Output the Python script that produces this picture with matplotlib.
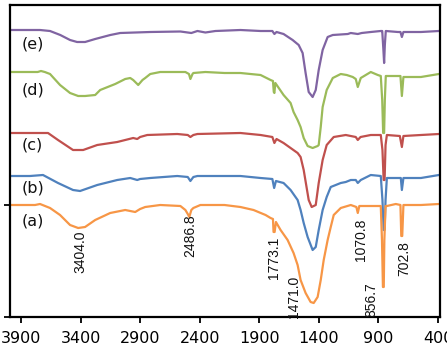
import matplotlib
matplotlib.use("Agg")
import matplotlib.pyplot as plt

# FTIR spectra, stacked. wavenumber (cm-1) and offset signal (a.u., axis inverted)
wn_e = [3992, 3740, 3656, 3570, 3488, 3429, 3362, 3277, 3150, 3067, 2815, 2562, 2470, 2419, 2352, 2268,
        2058, 1889, 1790, 1773, 1755, 1696, 1620, 1569, 1536, 1511, 1485, 1452, 1426, 1401, 1368, 1326,
        1283, 1157, 1132, 1073, 1040, 964, 880, 868, 858, 852, 846, 838, 737, 715, 703, 690, 543, 392]
sig_e = [30, 30, 31, 35, 40, 42, 42, 39, 35, 33, 32, 31.5, 33, 31, 32.5, 31,
         30, 31, 31, 34, 32, 34, 40, 45, 53, 73, 92, 97, 90, 70, 50, 37,
         35, 34, 33, 34, 33, 32, 31, 31, 50, 63, 45, 31, 32, 32, 37, 32, 32, 31]

wn_d = [3992, 3760, 3732, 3700, 3656, 3572, 3488, 3420, 3362, 3277, 3235, 3109, 3025, 2983, 2958, 2924,
        2916, 2880, 2857, 2815, 2731, 2520, 2490, 2478, 2460, 2453, 2352, 2192, 2058, 1889, 1805, 1785,
        1778, 1773, 1765, 1696, 1637, 1612, 1578, 1553, 1527, 1494, 1452, 1410, 1401, 1384, 1368, 1334,
        1283, 1216, 1166, 1115, 1090, 1073, 1048, 964, 905, 880, 868, 860, 852, 846, 838, 754, 715, 703,
        690, 543, 392]
sig_d = [72, 72, 71, 72, 74, 85, 93, 96, 96, 95, 90, 84, 79, 78, 80, 84,
         85, 80, 78, 74, 72, 72, 74, 79, 74, 73, 72, 73, 73, 75, 80, 81,
         92, 93, 83, 95, 103, 112, 120, 127, 138, 146, 148, 146, 145, 127, 107, 90,
         78, 74, 75, 77, 79, 87, 78, 72, 75, 76, 100, 133, 133, 100, 76, 76, 76, 96,
         77, 77, 74]

wn_c = [3992, 3673, 3589, 3463, 3378, 3260, 3092, 2958, 2924, 2900, 2840, 2588, 2500, 2478, 2453, 2419,
        2058, 1889, 1790, 1773, 1755, 1696, 1637, 1578, 1553, 1527, 1485, 1460, 1426, 1401, 1368, 1334,
        1275, 1174, 1090, 1073, 1050, 964, 880, 866, 856, 848, 840, 829, 720, 703, 690, 543, 392]
sig_c = [133, 133, 140, 150, 150, 145, 142, 138, 139, 137, 135, 134, 135, 137, 135, 134,
         133, 135, 137, 143, 139, 143, 148, 153, 157, 170, 200, 207, 205, 183, 160, 145,
         137, 135, 137, 140, 137, 135, 135, 150, 180, 180, 145, 135, 136, 147, 136, 135, 134]

wn_b = [3992, 3824, 3715, 3589, 3463, 3404, 3260, 3092, 2983, 2924, 2900, 2815, 2588, 2500, 2478, 2453,
        2419, 2058, 1889, 1790, 1775, 1760, 1696, 1637, 1578, 1553, 1527, 1494, 1452, 1426, 1401, 1368,
        1334, 1300, 1216, 1174, 1132, 1090, 1073, 1048, 964, 880, 866, 856, 848, 840, 829, 737, 712, 703,
        690, 543, 392]
sig_b = [176, 176, 175, 183, 190, 191, 185, 180, 178, 180, 179, 178, 176, 177, 181, 177,
         176, 176, 178, 179, 188, 181, 183, 190, 200, 210, 223, 237, 250, 247, 230, 210,
         197, 187, 183, 182, 180, 180, 183, 180, 175, 176, 200, 230, 230, 200, 178, 178, 178, 190,
         178, 178, 175]

wn_a = [3992, 3782, 3740, 3656, 3572, 3488, 3420, 3362, 3277, 3151, 3025, 2941, 2900, 2857, 2731, 2562,
        2520, 2500, 2487, 2470, 2453, 2394, 2192, 2058, 1948, 1847, 1805, 1785, 1780, 1771, 1760, 1721,
        1662, 1612, 1578, 1553, 1511, 1469, 1443, 1410, 1384, 1359, 1326, 1300, 1275, 1216, 1132, 1085,
        1073, 1060, 1040, 930, 880, 870, 862, 855, 850, 840, 829, 754, 715, 708, 700, 690, 543, 392]
sig_a = [205, 205, 204, 208, 215, 225, 228, 227, 220, 213, 210, 212, 209, 207, 205, 206,
         210, 214, 217, 210, 208, 205, 205, 207, 210, 215, 218, 219, 232, 232, 222, 230,
         240, 253, 265, 280, 293, 302, 303, 297, 280, 260, 240, 227, 215, 208, 205, 207,
         213, 206, 206, 206, 206, 240, 287, 287, 240, 206, 206, 204, 205, 236, 236, 205, 205, 204]

series = [
    ("(e)", wn_e, sig_e, "#8064A2"),
    ("(d)", wn_d, sig_d, "#9BBB59"),
    ("(c)", wn_c, sig_c, "#C0504D"),
    ("(b)", wn_b, sig_b, "#4F81BD"),
    ("(a)", wn_a, sig_a, "#F79646"),
]
series_label_y = [44, 90, 145, 188, 221]

peak_labels = ["3404.0", "2486.8", "1773.1", "1471.0", "1070.8", "856.7", "702.8"]
peak_label_x = [3404, 2480, 1780, 1612, 1048, 955, 686]
peak_label_y = [252, 236, 258, 297, 240, 300, 259]

xticks = [3900, 3400, 2900, 2400, 1900, 1400, 900, 400]

fig = plt.figure(figsize=(4.47, 3.5), dpi=100)
ax = fig.add_axes([10 / 447, 33 / 350, 430 / 447, 312 / 350])

for (name, wn, sig, col), ly in zip(series, series_label_y):
    ax.plot(wn, sig, color=col, lw=1.6)
    ax.text(3892, ly, name, fontsize=11.5, ha="left", va="center", color="#111111")

for txt, lx, ly in zip(peak_labels, peak_label_x, peak_label_y):
    ax.text(lx, ly, txt, rotation=90, ha="center", va="center", fontsize=10,
            family=["Liberation Sans Narrow", "Liberation Sans", "DejaVu Sans"], color="#111111")

ax.set_xlim(3992, 383)
ax.set_ylim(317, 5)
ax.set_xticks(xticks)
ax.set_xticklabels([str(t) for t in xticks], fontsize=11.5)
ax.set_yticks([205, 317])
ax.set_yticklabels([])
ax.tick_params(direction="out", length=4, width=1.3, color="black", pad=6)
for sp in ax.spines.values():
    sp.set_linewidth(1.6)
    sp.set_color("black")

fig.savefig("out.png", dpi=100)
